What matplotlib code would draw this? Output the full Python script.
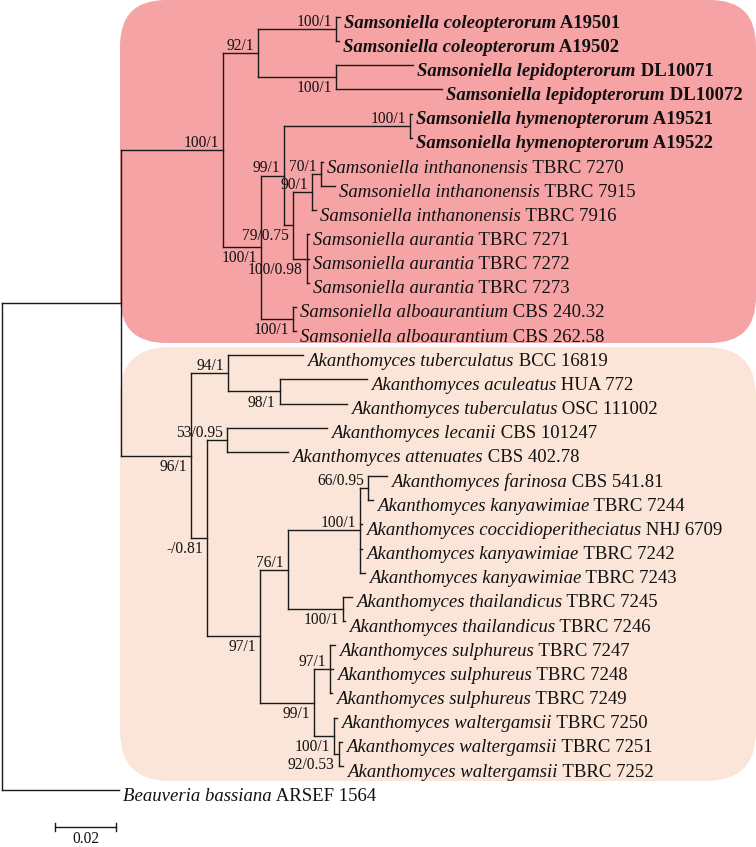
import matplotlib
matplotlib.use('Agg')
import matplotlib.pyplot as plt
from matplotlib.patches import FancyBboxPatch

# tree topology + branch lengths (substitutions/site), internal nodes named
newick = """(((((0:0.0013,1:0.0010)Ncol:0.0256,(2:0.0252,3:0.0348)Nlep:0.0256)N92:0.0115,
(((4:0.0007,5:0.0007)Nhym:0.0413,
(((6:0.0007,7:0.0046)N70:0.0030,8:0.0013)N90:0.0062,(9:0.0007,10:0.0007,11:0.0007)Naur:0.0046)N79:0.0030)N99:0.0075,
(12:0.0010,13:0.0010)Nalb:0.0105)N100b:0.0125)Sams:0.0334,
((14:0.0246,(15:0.0285,16:0.0220)N98:0.0170)N94:0.0121,
((17:0.0328,18:0.0200)N53:0.0066,
((((19:0.0062,20:0.0016)N66:0.0026,21:0.0007,22:0.0007,23:0.0016)N100f:0.0236,
(24:0.0030,25:0.0007)Nthai:0.0180)N76:0.0092,
((26:0.0016,27:0.0010,28:0.0007)N97b:0.0052,
(29:0.0010,(30:0.0010,31:0.0013)N92w:0.0016)N100w:0.0066)N99b:0.0177)N97:0.0174)N081:0.0052)Akan:0.0230)SA:0.0390,
32:0.0384)root;"""

species = ["Samsoniella coleopterorum", "Samsoniella coleopterorum",
           "Samsoniella lepidopterorum", "Samsoniella lepidopterorum",
           "Samsoniella hymenopterorum", "Samsoniella hymenopterorum",
           "Samsoniella inthanonensis", "Samsoniella inthanonensis", "Samsoniella inthanonensis",
           "Samsoniella aurantia", "Samsoniella aurantia", "Samsoniella aurantia",
           "Samsoniella alboaurantium", "Samsoniella alboaurantium",
           "Akanthomyces tuberculatus", "Akanthomyces aculeatus", "Akanthomyces tuberculatus",
           "Akanthomyces lecanii", "Akanthomyces attenuates",
           "Akanthomyces farinosa", "Akanthomyces kanyawimiae", "Akanthomyces coccidioperitheciatus",
           "Akanthomyces kanyawimiae", "Akanthomyces kanyawimiae",
           "Akanthomyces thailandicus", "Akanthomyces thailandicus",
           "Akanthomyces sulphureus", "Akanthomyces sulphureus", "Akanthomyces sulphureus",
           "Akanthomyces waltergamsii", "Akanthomyces waltergamsii", "Akanthomyces waltergamsii",
           "Beauveria bassiana"]
strains = ["A19501", "A19502", "DL10071", "DL10072", "A19521", "A19522",
           "TBRC 7270", "TBRC 7915", "TBRC 7916", "TBRC 7271", "TBRC 7272", "TBRC 7273",
           "CBS 240.32", "CBS 262.58", "BCC 16819", "HUA 772", "OSC 111002",
           "CBS 101247", "CBS 402.78", "CBS 541.81", "TBRC 7244", "NHJ 6709",
           "TBRC 7242", "TBRC 7243", "TBRC 7245", "TBRC 7246",
           "TBRC 7247", "TBRC 7248", "TBRC 7249", "TBRC 7250", "TBRC 7251", "TBRC 7252",
           "ARSEF 1564"]
new_taxa = [0, 1, 2, 3, 4, 5]

support = {"Sams": "100/1", "N92": "92/1", "Ncol": "100/1", "Nlep": "100/1",
           "N100b": "100/1", "N99": "99/1", "Nhym": "100/1", "N79": "79/0.75",
           "N90": "90/1", "N70": "70/1", "Naur": "100/0.98", "Nalb": "100/1",
           "Akan": "96/1", "N94": "94/1", "N98": "98/1", "N081": "-/0.81",
           "N53": "53/0.95", "N97": "97/1", "N76": "76/1", "N100f": "100/1",
           "N66": "66/0.95", "Nthai": "100/1", "N99b": "99/1", "N97b": "97/1",
           "N100w": "100/1", "N92w": "92/0.53"}
below = {"Nlep", "N100b", "N79", "Naur", "Nalb", "Akan", "N98", "N081",
         "N97", "Nthai", "N99b", "N100w", "N92w"}
scale_len = 0.02


def parse(s):
    s = "".join(s.split())
    pos = 0

    def node():
        nonlocal pos
        kids = []
        if s[pos] == '(':
            pos += 1
            while True:
                kids.append(node())
                if s[pos] == ',':
                    pos += 1
                    continue
                pos += 1
                break
        st = pos
        while s[pos] not in ':,();':
            pos += 1
        name = s[st:pos]
        ln = 0.0
        if s[pos] == ':':
            pos += 1
            st = pos
            while s[pos] not in ',();':
                pos += 1
            ln = float(s[st:pos])
        return {'name': name, 'len': ln, 'kids': kids}
    return node()


tree = parse(newick)
tips = [0]


def layout(n, x0):
    n['x'] = x0 + n['len']
    if not n['kids']:
        n['y'] = tips[0]
        tips[0] += 1
    else:
        for k in n['kids']:
            layout(k, n['x'])
        n['y'] = (n['kids'][0]['y'] + n['kids'][-1]['y']) / 2
    return n


layout(tree, 0.0)

W, H = 756, 847
fig = plt.figure(figsize=(W / 100, H / 100), dpi=100)

# background clade boxes (pixel coords)
bg = fig.add_axes([0, 0, 1, 1])
bg.set_xlim(0, W)
bg.set_ylim(H, 0)
bg.axis('off')
bg.add_patch(FancyBboxPatch((120, 0), 636, 343, boxstyle="round,pad=0,rounding_size=46",
                            fc='#f5a3a5', ec='none'))
bg.add_patch(FancyBboxPatch((120, 347), 636, 434, boxstyle="round,pad=0,rounding_size=50",
                            fc='#fae5d8', ec='none'))

ax = fig.add_axes([0, 0, 1, 1])
ax.patch.set_alpha(0)
ax.axis('off')
px = 0.02 / 61.0          # units per pixel
rowh = 24.16              # pixels per tip row
ax.set_xlim(-2 * px, (W - 2) * px)
ax.set_ylim((H - 17) / rowh, -17 / rowh)

lc = '#1a1a1a'
lw = 1.0
serif = 'Liberation Serif'
tip_fs = 13.5
lab_fs = 11.2


def draw(n, parent_x):
    ax.plot([parent_x, n['x']], [n['y'], n['y']], color=lc, lw=lw, solid_capstyle='projecting')
    if n['kids']:
        ax.plot([n['x'], n['x']], [n['kids'][0]['y'], n['kids'][-1]['y']], color=lc, lw=lw,
                solid_capstyle='projecting')
        for k in n['kids']:
            draw(k, n['x'])
        lab = support.get(n['name'])
        if lab:
            if n['name'] in below:
                ax.annotate(lab, (n['x'], n['y']), xytext=(-3, -2.2), textcoords='offset points',
                            ha='right', va='top', fontsize=lab_fs, family=serif, color='#111111')
            else:
                ax.annotate(lab, (n['x'], n['y']), xytext=(-3, 2.2), textcoords='offset points',
                            ha='right', va='baseline', fontsize=lab_fs, family=serif, color='#111111')
    else:
        i = int(n['name'])
        wt = 'bold' if i in new_taxa else 'normal'
        t = ax.annotate(species[i], (n['x'], n['y']), xytext=(3, -7.6), textcoords='offset points',
                        ha='left', va='baseline', fontsize=tip_fs, family=serif,
                        fontstyle='italic', fontweight=wt, color='#111111')
        ax.annotate(' ' + strains[i], xy=(1, 0), xycoords=t, ha='left', va='bottom',
                    fontsize=tip_fs, family=serif, fontweight=wt, color='#111111')


for k in tree['kids']:
    draw(k, tree['x'])
ax.plot([0, 0], [tree['kids'][0]['y'], tree['kids'][-1]['y']], color=lc, lw=lw,
        solid_capstyle='projecting')

# scale bar
sx0 = 53 * px
sy = (827 - 17) / rowh
ax.plot([sx0, sx0 + scale_len], [sy, sy], color=lc, lw=lw)
ax.plot([sx0, sx0], [sy - 0.17, sy + 0.17], color=lc, lw=lw)
ax.plot([sx0 + scale_len, sx0 + scale_len], [sy - 0.17, sy + 0.17], color=lc, lw=lw)
ax.annotate(str(scale_len), (sx0 + scale_len / 2, sy), xytext=(0, -11.5), textcoords='offset points',
            ha='center', va='baseline', fontsize=lab_fs, family=serif, color='#111111')

fig.savefig('out.png', dpi=100)
